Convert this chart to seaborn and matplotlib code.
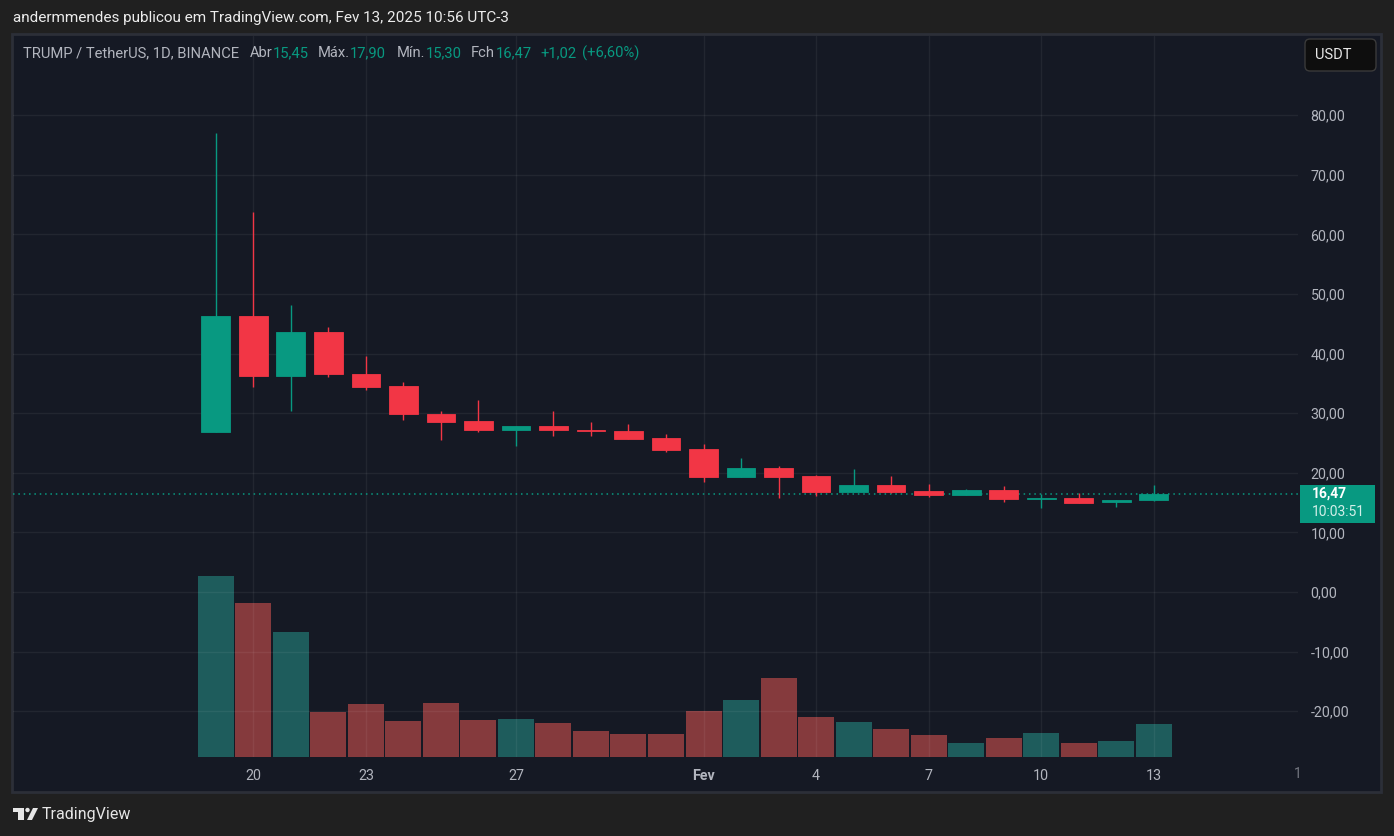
import numpy as np
import pandas as pd
import seaborn as sns
import matplotlib.pyplot as plt
from matplotlib import font_manager
from matplotlib.patches import Rectangle, FancyBboxPatch, Circle, Polygon
from matplotlib.ticker import FuncFormatter

# TRUMP/USDT daily candles, Jan 19 .. Feb 13 2025
days = ['19', '20', '21', '22', '23', '24', '25', '26', '27', '28', '29', '30', '31',
        '1', '2', '3', '4', '5', '6', '7', '8', '9', '10', '11', '12', '13']
opens = [26.9, 46.3, 36.2, 43.6, 36.6, 34.5, 29.9, 28.7, 27.2, 27.9, 27.2, 27.0, 25.8,
         24.0, 19.3, 20.8, 19.5, 16.8, 18.0, 16.9, 16.3, 17.1, 15.6, 15.8, 15.1, 15.45]
highs = [77.0, 63.8, 48.2, 44.5, 39.6, 35.2, 30.4, 32.2, 27.9, 30.4, 28.5, 28.2, 26.5,
         24.8, 22.5, 21.1, 19.6, 20.6, 19.5, 18.1, 17.3, 17.8, 16.4, 16.6, 15.4, 17.90]
lows = [26.9, 34.4, 30.3, 36.0, 33.9, 28.9, 25.5, 26.9, 24.5, 26.2, 26.2, 25.7, 23.5,
        18.5, 19.3, 15.8, 16.1, 16.8, 16.6, 15.9, 16.3, 15.1, 14.1, 14.9, 14.3, 15.30]
closes = [46.3, 36.2, 43.6, 36.6, 34.4, 29.9, 28.6, 27.2, 27.9, 27.1, 27.0, 25.7, 23.8,
          19.3, 20.8, 19.3, 16.8, 18.0, 16.8, 16.3, 17.1, 15.6, 15.75, 14.9, 15.45, 16.47]
# volume (relative units)
volume = [181, 154, 125, 45, 53, 36, 54, 37, 38, 34, 26, 23, 23,
          46, 57, 79, 40, 35, 28, 22, 14, 19, 24, 14, 16, 33]

tick_pos = [1, 4, 8, 13, 16, 19, 22, 25]
tick_labels = ['20', '23', '27', 'Fev', '4', '7', '10', '13']
price_ticks = [-20, -10, 0, 10, 20, 30, 40, 50, 60, 70, 80]
last_price = 16.47

GREEN = '#089981'
RED = '#f23645'
VOL_UP = '#1e5c5c'
VOL_DOWN = '#853a3d'
TXT = '#b2b5be'

sns.set_theme(style='dark')
avail = {f.name for f in font_manager.fontManager.ttflist}
base_font = 'Liberation Sans Narrow' if 'Liberation Sans Narrow' in avail else 'Roboto'
plt.rcParams['font.family'] = [base_font, 'DejaVu Sans']

W, H = 1394, 836
fig = plt.figure(figsize=(W / 100, H / 100), dpi=100, facecolor='#202020')

# pixel-coordinate layer for the frame and the decorations
deco = fig.add_axes([0, 0, 1, 1])
deco.set_xlim(0, W)
deco.set_ylim(H, 0)
deco.axis('off')
deco.add_patch(Rectangle((12, 34), 1369, 758, facecolor='#151924', edgecolor='#2c2f38', lw=2))

rect = [13 / W, 1 - 757 / H, (1298 - 13) / W, (757 - 36) / H]

# volume pane
n = len(days)
idx = np.arange(n)
side = ['up' if c >= o else 'down' for o, c in zip(opens, closes)]
vol_df = pd.DataFrame({'day': idx, 'volume': volume, 'side': side})
axv = fig.add_axes(rect)
sns.barplot(data=vol_df, x='day', y='volume', hue='side', native_scale=True, dodge=False,
            palette={'up': VOL_UP, 'down': VOL_DOWN}, saturation=1, width=0.96,
            linewidth=0, legend=False, ax=axv)
axv.set_xlim(-5.41, 28.85)
axv.set_ylim(0, max(volume) / 0.251)
axv.axis('off')

# price pane
ax = fig.add_axes(rect, sharex=axv)
ax.patch.set_visible(False)
colors = [GREEN if c >= o else RED for o, c in zip(opens, closes)]
ax.vlines(idx, lows, highs, colors=colors, lw=1.0, zorder=3)
ax.bar(idx, np.abs(np.array(closes) - np.array(opens)), bottom=np.minimum(opens, closes),
       width=0.77, color=colors, edgecolor=colors, linewidth=0.6, zorder=4)
ax.axhline(last_price, color=GREEN, ls=(0, (1, 2.5)), lw=1.1, zorder=2)

ax.set_ylim(-27.7, 93.3)
ax.set_yticks(price_ticks)
ax.yaxis.tick_right()
ax.yaxis.set_major_formatter(FuncFormatter(lambda v, p: f'{v:.2f}'.replace('.', ',')))
ax.set_xticks(tick_pos, tick_labels)
ax.get_xticklabels()[3].set_fontweight('bold')
ax.tick_params(axis='y', length=0, pad=9, labelcolor=TXT, labelsize=10.3)
ax.tick_params(axis='x', length=0, pad=9, labelcolor=TXT, labelsize=10.3)
ax.grid(True, color='white', alpha=0.06, lw=1)
ax.set_xlabel('')
ax.set_ylabel('')
for s in ax.spines.values():
    s.set_visible(False)

# header
deco.text(13, 18, 'andermmendes publicou em TradingView.com, Fev 13, 2025 10:56 UTC-3',
          color='#ececec', fontsize=11, va='center', ha='left')
legend_parts = [
    (23, 'TRUMP / TetherUS, 1D, BINANCE', TXT), (250, 'Abr', TXT), (273, '15,45', GREEN),
    (318, 'Máx.', TXT), (350, '17,90', GREEN), (397, 'Mín.', TXT), (426, '15,30', GREEN),
    (471, 'Fch', TXT), (496, '16,47', GREEN), (540, '+1,02', GREEN), (582, '(+6,60%)', GREEN),
]
for x, s, c in legend_parts:
    deco.text(x, 53, s, color=c, fontsize=10.6, va='center', ha='left')

# currency button
deco.add_patch(FancyBboxPatch((1305, 39), 71, 32, boxstyle='round,pad=0,rounding_size=5',
                              facecolor='#0e0e0e', edgecolor='#3a3a3a', lw=1))
deco.text(1315, 55, 'USDT', color='#e8e8e8', fontsize=10.5, va='center', ha='left')

# last price label
deco.add_patch(Rectangle((1300, 485), 75, 38, facecolor=GREEN, edgecolor='none'))
deco.text(1312, 494, '16,47', color='white', fontsize=10, fontweight='bold', va='center', ha='left')
deco.text(1312, 512, '10:03:51', color='#d3efe9', fontsize=10, va='center', ha='left')
deco.text(1298, 774, '1', color=TXT, fontsize=10, va='center', ha='center', alpha=0.6)

# watermark logo + name
logo = '#e6e6e6'
deco.add_patch(Rectangle((13, 808), 11, 4, color=logo, lw=0))
deco.add_patch(Rectangle((18, 808), 6, 12, color=logo, lw=0))
deco.add_patch(Circle((27.5, 810), 2.2, color=logo, lw=0))
deco.add_patch(Polygon([(33, 808), (38, 808), (32, 820), (27, 820)], closed=True, color=logo, lw=0))
deco.text(42, 814, 'TradingView', color=logo, fontsize=11.5, va='center', ha='left')

fig.savefig('out.png', dpi=100, facecolor=fig.get_facecolor())
